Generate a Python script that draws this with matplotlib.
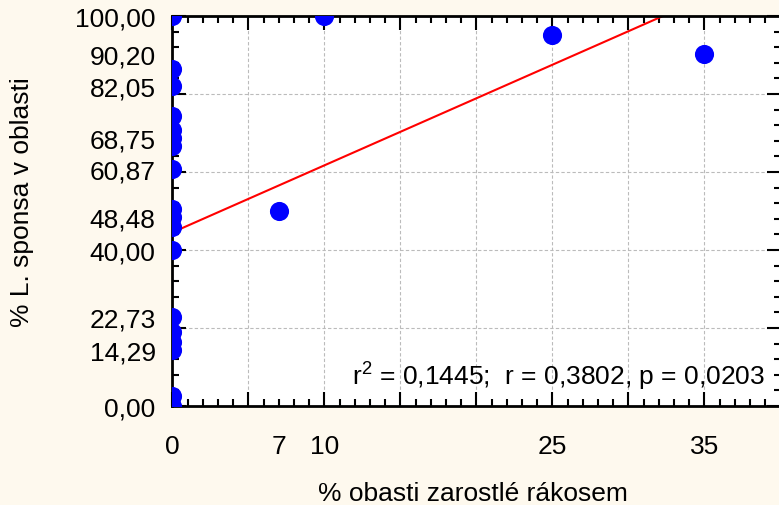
import matplotlib
matplotlib.use("Agg")
import matplotlib.pyplot as plt
import matplotlib.transforms as mtransforms
import numpy as np

# ---- data ----
x_vals = [0, 0, 0, 0, 0, 0, 0, 0, 0, 0, 0, 0, 0, 0, 0, 0, 0, 0, 7, 10, 25, 35]
y_vals = [100, 86.4, 82.05, 74.4, 70.8, 68.75, 66.7, 60.87, 50.5, 48.48, 46.0,
          40.0, 22.73, 19.0, 16.5, 14.29, 2.5, 0.0, 50.0, 100, 95.1, 90.2]
fit_x = [0, 40]
fit_y = [44.5, 44.5 + 1.72 * 40]

x_tick_vals = [0, 7, 10, 25, 35]
x_tick_labels = ["0", "7", "10", "25", "35"]
y_tick_vals = [0, 14.29, 22.73, 40, 48.48, 60.87, 68.75, 82.05, 90.20, 100]
y_tick_labels = ["0,00", "14,29", "22,73", "40,00", "48,48", "60,87", "68,75",
                 "82,05", "90,20", "100,00"]
x_label = "% obasti zarostlé rákosem"
y_label = "% L. sponsa v oblasti"
stats_text = r"r$^2$ = 0,1445;  r = 0,3802, p = 0,0203"

plt.rcParams['font.family'] = ['Liberation Sans', 'DejaVu Sans']
plt.rcParams['mathtext.fontset'] = 'custom'
plt.rcParams['mathtext.rm'] = 'Liberation Sans'
plt.rcParams['mathtext.it'] = 'Liberation Sans'
plt.rcParams['mathtext.default'] = 'regular'
FS = 19
bg = '#FEF9EE'

fig = plt.figure(figsize=(7.79, 5.06), dpi=100, facecolor=bg)
ax = fig.add_axes([172.3 / 779, (506 - 407) / 506, (780.5 - 172.3) / 779, 390 / 506])
ax.set_facecolor('white')
ax.set_xlim(0, 40)
ax.set_ylim(0, 100)

ax.scatter(x_vals, y_vals, s=190, color='#0000FF', zorder=3, linewidths=0)
ax.plot(fit_x, fit_y, color='#FF0000', lw=1.5, zorder=2)

# real ticks (no labels)
ax.set_xticks(np.arange(0, 41, 5))
ax.set_xticks(np.arange(0, 41, 1), minor=True)
ax.set_yticks(np.arange(0, 101, 20))
ax.set_yticks(np.arange(0, 101, 4), minor=True)
ax.tick_params(which='both', direction='in', top=True, right=True,
               labelbottom=False, labelleft=False, color='black', width=1.5)
ax.tick_params(which='major', length=10)
ax.tick_params(which='minor', length=5)
ax.grid(True, which='major', color='#BBBBBB', linestyle=(0, (3, 2)), lw=0.8)
ax.set_axisbelow(True)
for s in ax.spines.values():
    s.set_linewidth(2)
    s.set_color('black')

# custom labelled positions
trans_x = mtransforms.blended_transform_factory(ax.transData, fig.transFigure)
for xv, lab in zip(x_tick_vals, x_tick_labels):
    fig.text(xv, 1 - 447 / 506, lab, transform=trans_x, ha='center', va='center',
             fontsize=FS)
secy = ax.secondary_yaxis('left')
secy.set_yticks(y_tick_vals, y_tick_labels)
secy.tick_params(length=0, pad=12, labelsize=FS)
secy.spines['left'].set_visible(False)

fig.text(473 / 779, 1 - 494 / 506, x_label, ha='center', va='center', fontsize=FS)
fig.text(22 / 779, 1 - 202 / 506, y_label, ha='center', va='center', fontsize=FS,
         rotation=90)
t = ax.text(0, 0, stats_text, fontsize=FS)
t.set_transform(mtransforms.IdentityTransform())
t.set_position((765, 506 - 386))
t.set_ha('right')
t.set_va('baseline')

fig.savefig('out.png', dpi=100, facecolor=bg)
